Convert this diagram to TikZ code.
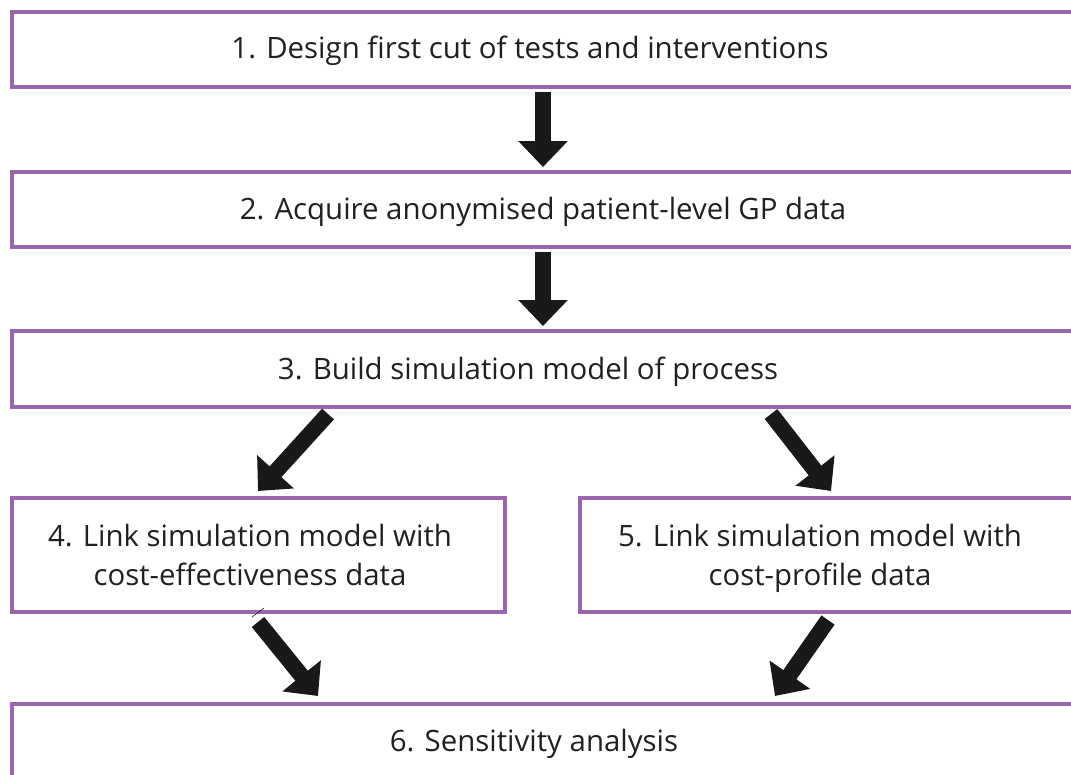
\documentclass[tikz,border=0pt]{standalone}
\usepackage{fontspec}
\setmainfont{Open Sans}
\usetikzlibrary{arrows.meta}
\definecolor{boxpurple}{RGB}{155,102,174}
\definecolor{inkgray}{RGB}{35,31,32}
\definecolor{arrowblack}{RGB}{26,24,25}
\tikzset{
  stagebox/.style={draw=boxpurple, line width=4pt, rectangle, inner sep=0pt, outer sep=0pt},
  stagetext/.style={text=inkgray, font=\fontsize{29.4}{39}\selectfont, align=center, inner sep=0pt},
  flowarrow/.style={draw=arrowblack, line width=16pt, line cap=butt,
    -{Triangle[width=48pt,length=26pt]}},
}
\begin{document}
\begin{tikzpicture}[x=1pt,y=-1pt]
\clip (0,0) rectangle (1071,774);
\fill[white] (0,0) rectangle (1071,774);

% stage boxes
\node[stagebox, minimum width=1080pt, minimum height=75.5pt] (b1) at (552,49.25) {};
\node[stagebox, minimum width=1080pt, minimum height=75.5pt] (b2) at (552,209.25) {};
\node[stagebox, minimum width=1080pt, minimum height=75.5pt] (b3) at (552,368.75) {};
\node[stagebox, minimum width=493pt, minimum height=114pt] (b4) at (258.5,555) {};
\node[stagebox, minimum width=512pt, minimum height=114pt] (b5) at (836,555) {};
\node[stagebox, minimum width=1080pt, minimum height=90pt] (b6) at (552,749) {};

% stage labels
\node[stagetext] (t1) at (530,51) {1. Design first cut of tests and interventions};
\node[stagetext] (t2) at (543,212) {2. Acquire anonymised patient-level GP data};
\node[stagetext] (t3) at (528,372) {3. Build simulation model of process};
\node[stagetext] (t4) at (250,555) {4. Link simulation model with\\cost-effectiveness data};
\node[stagetext] (t5) at (820,558) {5. Link simulation model with\\cost-profile data};
\node[stagetext] (t6) at (534,744) {6. Sensitivity analysis};

% arrow ends
\coordinate (a1s) at (543,92);  \coordinate (a1e) at (543,167);
\coordinate (a2s) at (543,252); \coordinate (a2e) at (543,326);
\coordinate (a3s) at (328,414); \coordinate (a3e) at (258,491);
\coordinate (a4s) at (771,414); \coordinate (a4e) at (831,491);
\coordinate (a5s) at (258,622); \coordinate (a5e) at (318,696);
\coordinate (a6s) at (828,620); \coordinate (a6e) at (775,696);

\draw[flowarrow] (a1s) -- (a1e);
\draw[flowarrow] (a2s) -- (a2e);
\draw[flowarrow] (a3s) -- (a3e);
\draw[flowarrow] (a4s) -- (a4e);
\draw[flowarrow] (a5s) -- (a5e);
\draw[flowarrow] (a6s) -- (a6e);

% small stray stroke below box 4
\coordinate (s1) at (252,617); \coordinate (s2) at (264,608);
\draw[inkgray, line width=0.6pt] (s1) -- (s2);
\end{tikzpicture}
\end{document}
